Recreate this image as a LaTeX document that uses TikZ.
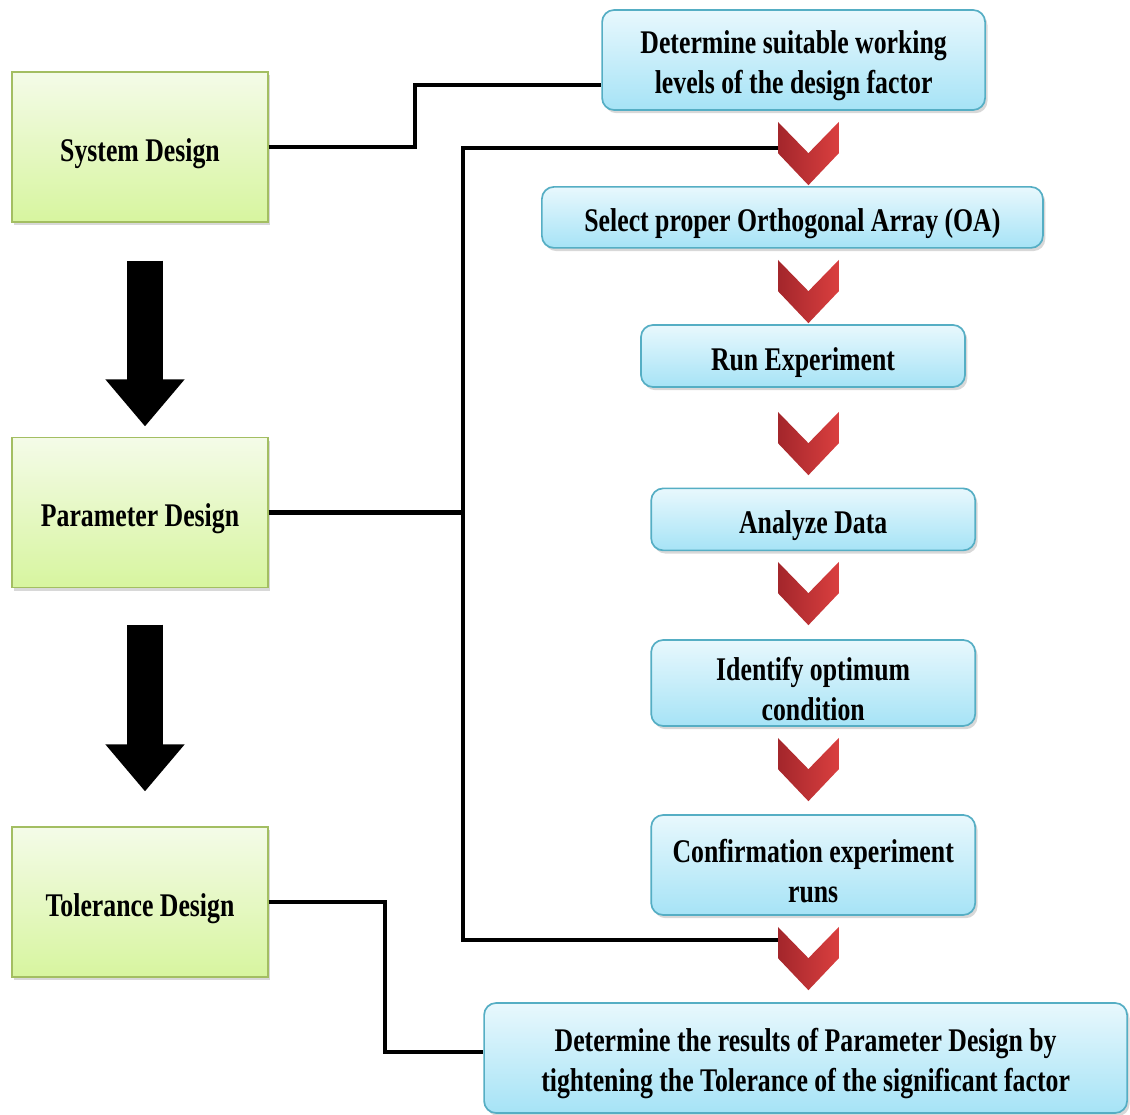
\documentclass[tikz,border=0pt]{standalone}
\usepackage{fontspec}
\setmainfont{Liberation Serif}[FakeStretch=0.78]
\usepackage{tikz}
\usetikzlibrary{positioning,calc,arrows.meta,shadows}
\usepackage{xcolor}
\definecolor{greentop}{HTML}{F4FBE8}
\definecolor{greenbot}{HTML}{D7F59F}
\definecolor{greenline}{HTML}{A3BE62}
\definecolor{bluetop}{HTML}{E8F8FD}
\definecolor{bluebot}{HTML}{A6E3F6}
\definecolor{blueline}{HTML}{55AEC4}
\definecolor{chevdark}{HTML}{A3262B}
\definecolor{chevlight}{HTML}{DA3F3F}

\begin{document}
\begin{tikzpicture}
[GreenNode/.style={rectangle,draw=greenline,top color=greentop,bottom color=greenbot,line width=1pt, minimum width=64mm, minimum height=37.5mm, font=\bfseries\fontsize{23.5}{28.5}\selectfont, execute at begin node={\rule{0pt}{9mm}}, drop shadow={opacity=0.3,shadow xshift=0.6mm,shadow yshift=-0.8mm}},
BlueNode/.style={rectangle,rounded corners=3mm,draw=blueline,top color=bluetop,bottom color=bluebot,line width=1.2pt, align=center, font=\bfseries\fontsize{23.5}{28.5}\selectfont, execute at begin node={\rule{0pt}{9mm}}, drop shadow={opacity=0.3,shadow xshift=0.6mm,shadow yshift=-0.8mm}},
TwoLine/.style={execute at begin node={\rule{0pt}{18.8mm}}},
Link/.style={line width=3.5pt},
BigArrow/.style={line width=9mm,-{Triangle[length=11.75mm,width=19mm]}},
chev/.pic={\shade[left color=chevdark,right color=chevlight] (-0.76,0) -- (0,-0.78) -- (0.76,0) -- (0.76,-0.78) -- (0,-1.58) -- (-0.76,-0.78) -- cycle;}]

\fill[white] (0,0) rectangle (28.25,27.875);
\useasboundingbox (0,0) rectangle (28.25,27.875);

% left column
\node[GreenNode] (sys) at (3.5, 24.2) {System Design};
\node[GreenNode] (par) at (3.5, 15.06) {Parameter Design};
\node[GreenNode] (tol) at (3.5, 5.325) {Tolerance Design};

\draw[BigArrow] ($(sys.south)+(0.125,-0.95)$) -- ($(par.north)+(0.125,0.26)$);
\draw[BigArrow] ($(par.south)+(0.125,-0.91)$) -- ($(tol.north)+(0.125,0.87)$);

% right column
\node[BlueNode, TwoLine, minimum width=95.75mm, minimum height=25mm] (n1) at (19.84, 26.375) {Determine suitable working\\levels of the design factor};
\node[BlueNode, minimum width=125.25mm, minimum height=15.25mm] (n2) at (19.81, 22.44) {Select proper Orthogonal Array (OA)};
\node[BlueNode, minimum width=81mm, minimum height=15.5mm] (n3) at (20.075, 18.975) {Run Experiment};
\node[BlueNode, minimum width=81mm, minimum height=15.5mm] (n4) at (20.33, 14.89) {Analyze Data};
\node[BlueNode, TwoLine, minimum width=81mm, minimum height=21.5mm] (n5) at (20.33, 10.8) {Identify optimum\\condition};
\node[BlueNode, TwoLine, minimum width=81mm, minimum height=25mm] (n6) at (20.33, 6.25) {Confirmation experiment\\runs};
\node[BlueNode, TwoLine, minimum width=160.75mm, minimum height=27.5mm] (n7) at (20.14, 1.425) {Determine the results of Parameter Design by\\tightening the Tolerance of the significant factor};

% chevrons
\pic at (20.21, 24.825) {chev};
\pic at (20.21, 21.375) {chev};
\pic at (20.21, 17.575) {chev};
\pic at (20.21, 13.825) {chev};
\pic at (20.21, 9.425) {chev};
\pic at (20.21, 4.7) {chev};
\coordinate (c1) at (19.45, 24.175);
\coordinate (c6) at (19.45, 4.375);
\coordinate (j1) at (11.575, 15.06);

% connectors
\draw[Link] (sys.east) -| (10.375,25.75) -- ($(n1.west)+(0,-0.625)$);
\draw[Link] (c1) -| (11.575,4.375) -- (c6);
\draw[Link] (par.east) -- (j1);
\draw[Link] (tol.east) -| (9.625,1.575) -- (n7.west |- 0,1.575);

\end{tikzpicture}
\end{document}
